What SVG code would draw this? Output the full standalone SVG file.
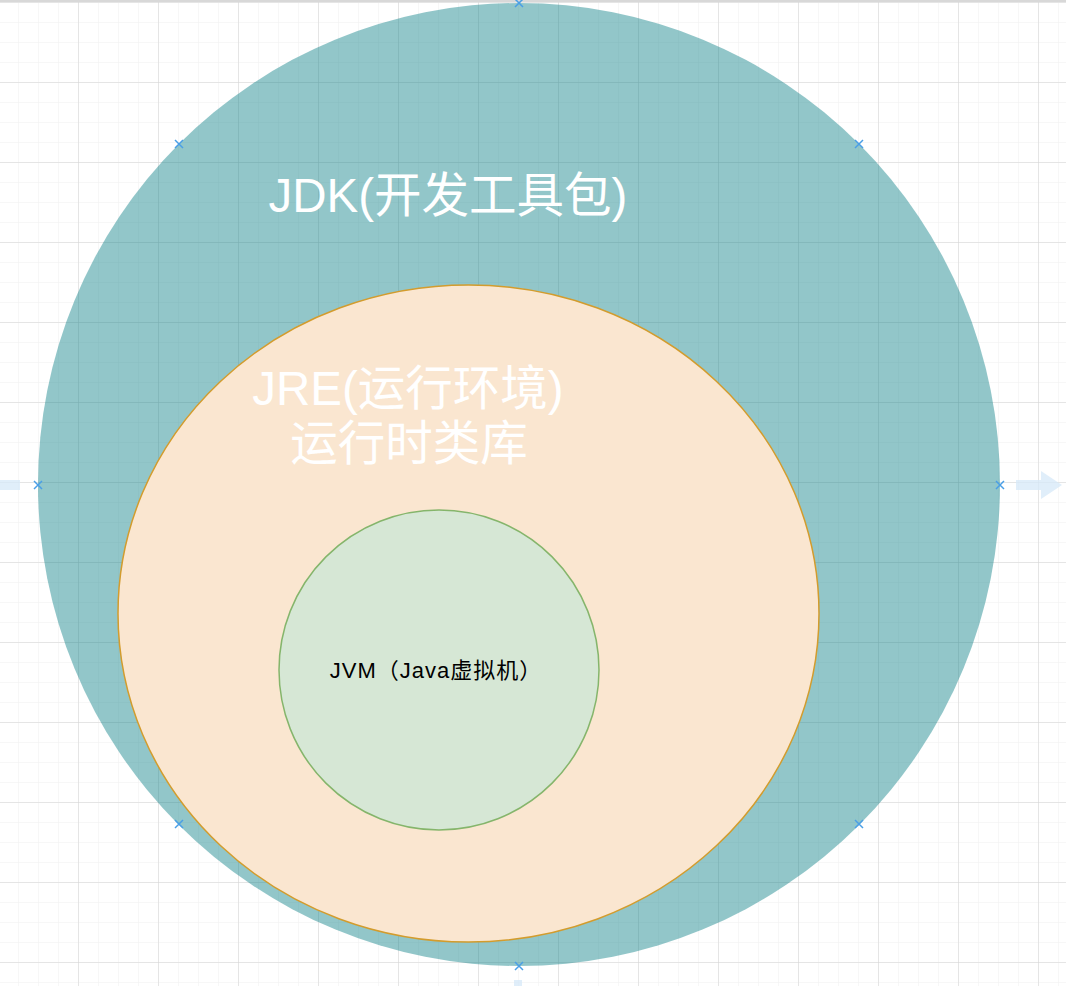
<svg xmlns="http://www.w3.org/2000/svg" width="1066" height="986" viewBox="0 0 1066 986">
<defs>
<pattern id="minor" x="18" y="2" width="20" height="20" patternUnits="userSpaceOnUse">
<path d="M0 0H20M0 0V20" fill="none" stroke="#efefef" stroke-width="1"/>
</pattern>
<pattern id="major" x="78" y="2" width="80" height="80" patternUnits="userSpaceOnUse">
<path d="M0 0H80M0 0V80" fill="none" stroke="#d3d3d3" stroke-width="1"/>
</pattern>
<path id="x" d="M-4 -4L4 4M-4 4L4 -4" fill="none" stroke="#4a9fe6" stroke-width="1.5"/>
</defs>
<style>
.big{font-family:"Liberation Sans","Noto Sans CJK SC",sans-serif;fill:#ffffff;text-anchor:middle}
.small{font-family:"Liberation Sans","Noto Sans CJK SC",sans-serif;fill:#000000;text-anchor:middle;font-size:22px;letter-spacing:1px}
</style>
<rect width="1066" height="986" fill="#ffffff"/>
<rect width="1066" height="986" fill="url(#minor)"/>
<rect width="1066" height="986" fill="url(#major)"/>
<line x1="0" y1="1" x2="1066" y2="1" stroke="#d8d8d8" stroke-width="2"/>
<g id="hover-arrows" fill="#d6e8f8" opacity="0.75">
<rect x="0" y="480" width="20" height="10"/>
<path d="M1016 480H1041V471L1062 485L1041 499V490H1016Z"/>
<rect x="514" y="980" width="8" height="6"/>
</g>
<g id="jdk">
<ellipse cx="519" cy="484.5" rx="481" ry="481.5" fill="#0e8088" fill-opacity="0.45"/>
<text class="big" x="448" y="212" font-size="47.5">JDK(开发工具包)</text>
</g>
<g id="jre">
<ellipse cx="468.5" cy="613.5" rx="350.5" ry="328.5" fill="#fae6d0" stroke="#d39c2d" stroke-width="1.5"/>
<text class="big" x="408" y="405" font-size="47.5">JRE(运行环境)</text>
<text class="big" x="409" y="460" font-size="47.5">运行时类库</text>
</g>
<g id="jvm">
<circle cx="439" cy="670" r="160" fill="#d6e7d5" stroke="#85b56b" stroke-width="1.5"/>
<text class="small" x="436" y="678">JVM（Java虚拟机）</text>
</g>
<g id="handles">
<use href="#x" x="38" y="485"/>
<use href="#x" x="1000" y="485"/>
<use href="#x" x="519" y="3"/>
<use href="#x" x="519" y="966"/>
<use href="#x" x="179" y="144"/>
<use href="#x" x="859" y="144"/>
<use href="#x" x="179" y="824"/>
<use href="#x" x="859" y="824"/>
</g>
</svg>
